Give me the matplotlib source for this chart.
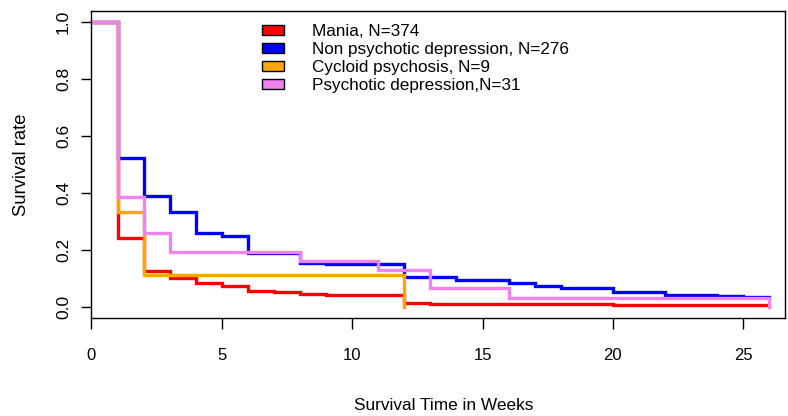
import matplotlib
matplotlib.use("Agg")
import matplotlib.pyplot as plt
from matplotlib.patches import Patch

plt.rcParams['font.family'] = ['Liberation Sans', 'DejaVu Sans']

# Kaplan-Meier style step curves, time in weeks
mania_t = [0, 1, 2, 3, 4, 5, 6, 7, 8, 9, 12, 13, 20, 26]
mania_s = [1.0, 0.243, 0.126, 0.101, 0.085, 0.074, 0.056, 0.053, 0.046, 0.042, 0.013, 0.011, 0.008, 0.008]

nonpsy_t = [0, 1, 2, 3, 4, 5, 6, 8, 9, 12, 14, 16, 17, 18, 20, 22, 24, 25, 26]
nonpsy_s = [1.0, 0.522, 0.389, 0.332, 0.261, 0.250, 0.188, 0.156, 0.151, 0.106, 0.095, 0.083,
            0.074, 0.068, 0.053, 0.043, 0.040, 0.036, 0.036]

cycloid_t = [0, 1, 2, 12]
cycloid_s = [1.0, 0.333, 0.111, 0.0]

psydep_t = [0, 1, 2, 3, 8, 11, 13, 16, 26]
psydep_s = [1.0, 0.387, 0.258, 0.194, 0.161, 0.129, 0.065, 0.032, 0.0]

labels = ["Mania, N=374", "Non psychotic depression, N=276",
          "Cycloid psychosis, N=9", "Psychotic depression,N=31"]
colors = ["red", "blue", "orange", "violet"]

fig = plt.figure(figsize=(7.88, 4.16), dpi=100)
ax = fig.add_axes([0.1161, 0.2346, 0.9962 - 0.1161, 0.9745 - 0.2346])

series = [(mania_t, mania_s), (nonpsy_t, nonpsy_s), (cycloid_t, cycloid_s), (psydep_t, psydep_s)]
for (t, s), c in zip(series, colors):
    ax.step(t, s, where='post', color=c, linewidth=2.4, solid_joinstyle='miter')

ax.set_xlim(0, 26.6)
ax.set_ylim(-0.04, 1.04)
ax.set_xticks([0, 5, 10, 15, 20, 25])
ax.set_yticks([0.0, 0.2, 0.4, 0.6, 0.8, 1.0])
ax.set_yticklabels(["0.0", "0.2", "0.4", "0.6", "0.8", "1.0"])
ax.tick_params(axis='x', length=8, width=1, pad=13.5, labelsize=12)
ax.tick_params(axis='y', length=7.2, width=1, pad=7.5, labelsize=12.5, labelrotation=90)
for lbl in ax.get_yticklabels():
    lbl.set_va('center')
for sp in ax.spines.values():
    sp.set_linewidth(1)

ax.set_xlabel("Survival Time in Weeks", fontsize=12.4)
ax.set_ylabel("Survival rate", fontsize=13.3)
ax.xaxis.set_label_coords(0.508, -0.257)
ax.yaxis.set_label_coords(-0.088, 0.5)

handles = [Patch(facecolor=c, edgecolor='black', linewidth=1) for c in colors]
ax.legend(handles, labels, loc='upper left', bbox_to_anchor=(262 / 788, 1 - 24 / 416),
          bbox_transform=fig.transFigure, frameon=False, fontsize=12.3,
          handlelength=1.3, handleheight=0.54, handletextpad=1.62, labelspacing=0.17,
          borderpad=0, borderaxespad=0)

plt.savefig("out.png", dpi=100)
